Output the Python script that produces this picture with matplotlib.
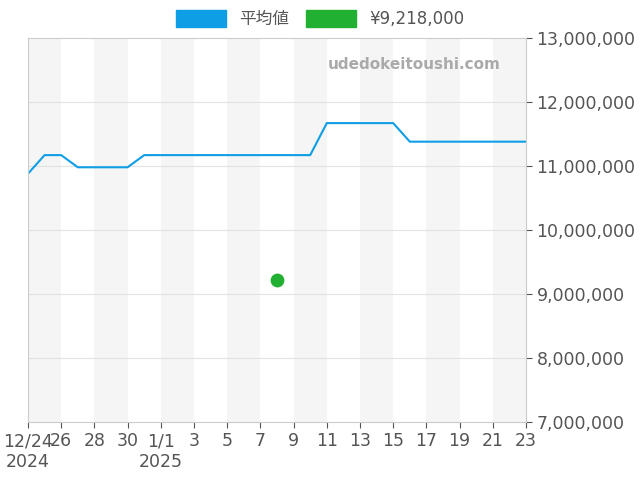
import matplotlib
matplotlib.use("Agg")
import matplotlib.pyplot as plt
import numpy as np
import datetime as dt

plt.rcParams['font.family'] = ['DejaVu Sans', 'Noto Sans CJK JP']

start = dt.date(2024, 12, 24)
avg_values = [10880000, 11170000, 11170000, 10980000, 10980000, 10980000, 10980000,
              11170000, 11170000, 11170000, 11170000, 11170000, 11170000, 11170000,
              11170000, 11170000, 11170000, 11170000, 11670000, 11670000, 11670000,
              11670000, 11670000, 11380000, 11380000, 11380000, 11380000, 11380000,
              11380000, 11380000, 11380000]
dates = [start + dt.timedelta(days=i) for i in range(len(avg_values))]
point_date = [dt.date(2025, 1, 8)]
point_value = [9218000]

fig = plt.figure(figsize=(6.4, 4.8), dpi=100)
ax = fig.add_axes([28/640, 58/480, 498/640, 384/480])
ax.set_xlim(dates[0], dates[-1])
ax.set_ylim(7000000, 13000000)

for i in range(0, 30, 4):
    ax.axvspan(dates[i], dates[i+2], color='#f5f5f5', lw=0, zorder=0)
for y in range(8000000, 13000000, 1000000):
    ax.axhline(y, color='#e2e2e2', lw=0.8, zorder=1)

ax.plot(dates, avg_values, color='#0d9ee6', lw=1.5, zorder=2)
ax.scatter(point_date, point_value, color='#22b033', s=80, zorder=3)

ax.yaxis.tick_right()
ax.set_yticks(np.arange(7000000, 13000001, 1000000))
ax.yaxis.set_major_formatter(matplotlib.ticker.FuncFormatter(lambda v, p: f"{int(v):,}"))
ticks = dates[::2]
labels = []
for d in ticks:
    if d == dates[0]:
        labels.append("12/24\n2024")
    elif d.day == 1 and d.month == 1:
        labels.append("1/1\n2025")
    else:
        labels.append(str(d.day))
ax.set_xticks(ticks)
ax.set_xticklabels(labels)
ax.tick_params(colors='#555555', labelsize=12.5, length=4)
for s in ax.spines.values():
    s.set_color('#cccccc')

ax.text(0.95, 0.95, 'udedokeitoushi.com', transform=ax.transAxes, ha='right', va='top',
        color='#aaaaaa', fontsize=11, fontweight='bold')

fig.legend(handles=[plt.Rectangle((0, 0), 1, 1, color='#0d9ee6'),
                    plt.Rectangle((0, 0), 1, 1, color='#22b033')],
           labels=['平均値', '¥9,218,000'], loc='upper center', bbox_to_anchor=(0.5, 1.01),
           ncol=2, frameon=False, fontsize=12, handlelength=3, handleheight=1.2,
           labelcolor='#555555', columnspacing=1)

fig.savefig('out.png', dpi=100)
